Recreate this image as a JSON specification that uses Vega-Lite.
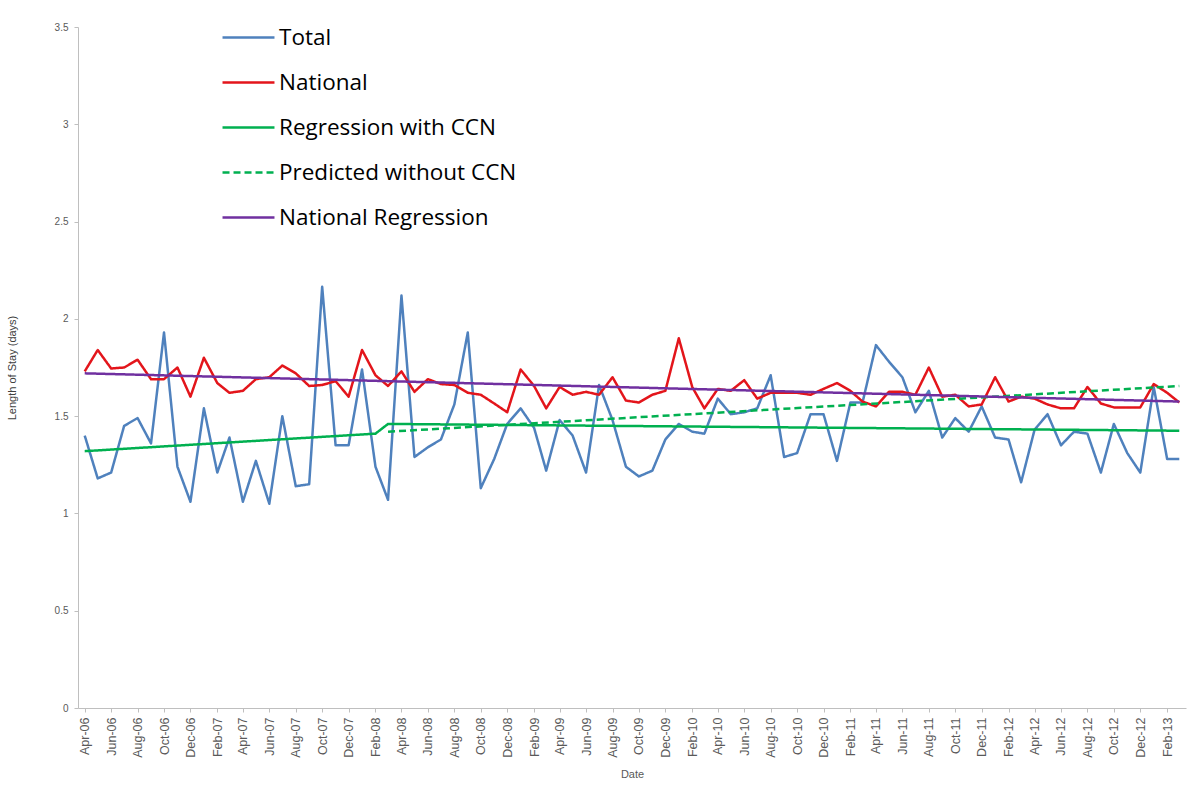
{
  "$schema": "https://vega.github.io/schema/vega-lite/v6.json",
  "width": 1108,
  "height": 681,
  "autosize": {"type": "none"},
  "padding": {"left": 78, "top": 27, "right": 14, "bottom": 82},
  "background": "white",
  "config": {"view": {"stroke": null}},
  "datasets": {
    "monthly": [
      {"date": "2006-04-01T00:00", "Total": 1.40, "National": 1.73},
      {"date": "2006-05-01T00:00", "Total": 1.18, "National": 1.84},
      {"date": "2006-06-01T00:00", "Total": 1.21, "National": 1.745},
      {"date": "2006-07-01T00:00", "Total": 1.45, "National": 1.75},
      {"date": "2006-08-01T00:00", "Total": 1.49, "National": 1.79},
      {"date": "2006-09-01T00:00", "Total": 1.36, "National": 1.69},
      {"date": "2006-10-01T00:00", "Total": 1.93, "National": 1.69},
      {"date": "2006-11-01T00:00", "Total": 1.24, "National": 1.75},
      {"date": "2006-12-01T00:00", "Total": 1.06, "National": 1.60},
      {"date": "2007-01-01T00:00", "Total": 1.54, "National": 1.80},
      {"date": "2007-02-01T00:00", "Total": 1.21, "National": 1.67},
      {"date": "2007-03-01T00:00", "Total": 1.39, "National": 1.62},
      {"date": "2007-04-01T00:00", "Total": 1.06, "National": 1.63},
      {"date": "2007-05-01T00:00", "Total": 1.27, "National": 1.69},
      {"date": "2007-06-01T00:00", "Total": 1.05, "National": 1.70},
      {"date": "2007-07-01T00:00", "Total": 1.50, "National": 1.76},
      {"date": "2007-08-01T00:00", "Total": 1.14, "National": 1.72},
      {"date": "2007-09-01T00:00", "Total": 1.15, "National": 1.655},
      {"date": "2007-10-01T00:00", "Total": 2.165, "National": 1.66},
      {"date": "2007-11-01T00:00", "Total": 1.35, "National": 1.68},
      {"date": "2007-12-01T00:00", "Total": 1.35, "National": 1.60},
      {"date": "2008-01-01T00:00", "Total": 1.74, "National": 1.84},
      {"date": "2008-02-01T00:00", "Total": 1.24, "National": 1.71},
      {"date": "2008-03-01T00:00", "Total": 1.07, "National": 1.655},
      {"date": "2008-04-01T00:00", "Total": 2.12, "National": 1.73},
      {"date": "2008-05-01T00:00", "Total": 1.29, "National": 1.625},
      {"date": "2008-06-01T00:00", "Total": 1.34, "National": 1.69},
      {"date": "2008-07-01T00:00", "Total": 1.38, "National": 1.665},
      {"date": "2008-08-01T00:00", "Total": 1.56, "National": 1.66},
      {"date": "2008-09-01T00:00", "Total": 1.93, "National": 1.62},
      {"date": "2008-10-01T00:00", "Total": 1.13, "National": 1.61},
      {"date": "2008-11-01T00:00", "Total": 1.28, "National": 1.565},
      {"date": "2008-12-01T00:00", "Total": 1.46, "National": 1.52},
      {"date": "2009-01-01T00:00", "Total": 1.54, "National": 1.74},
      {"date": "2009-02-01T00:00", "Total": 1.44, "National": 1.655},
      {"date": "2009-03-01T00:00", "Total": 1.22, "National": 1.54},
      {"date": "2009-04-01T00:00", "Total": 1.48, "National": 1.65},
      {"date": "2009-05-01T00:00", "Total": 1.40, "National": 1.61},
      {"date": "2009-06-01T00:00", "Total": 1.21, "National": 1.625},
      {"date": "2009-07-01T00:00", "Total": 1.66, "National": 1.61},
      {"date": "2009-08-01T00:00", "Total": 1.48, "National": 1.70},
      {"date": "2009-09-01T00:00", "Total": 1.24, "National": 1.58},
      {"date": "2009-10-01T00:00", "Total": 1.19, "National": 1.57},
      {"date": "2009-11-01T00:00", "Total": 1.22, "National": 1.61},
      {"date": "2009-12-01T00:00", "Total": 1.38, "National": 1.63},
      {"date": "2010-01-01T00:00", "Total": 1.46, "National": 1.90},
      {"date": "2010-02-01T00:00", "Total": 1.42, "National": 1.65},
      {"date": "2010-03-01T00:00", "Total": 1.41, "National": 1.54},
      {"date": "2010-04-01T00:00", "Total": 1.59, "National": 1.64},
      {"date": "2010-05-01T00:00", "Total": 1.51, "National": 1.63},
      {"date": "2010-06-01T00:00", "Total": 1.52, "National": 1.685},
      {"date": "2010-07-01T00:00", "Total": 1.54, "National": 1.59},
      {"date": "2010-08-01T00:00", "Total": 1.71, "National": 1.62},
      {"date": "2010-09-01T00:00", "Total": 1.29, "National": 1.62},
      {"date": "2010-10-01T00:00", "Total": 1.31, "National": 1.62},
      {"date": "2010-11-01T00:00", "Total": 1.51, "National": 1.61},
      {"date": "2010-12-01T00:00", "Total": 1.51, "National": 1.64},
      {"date": "2011-01-01T00:00", "Total": 1.27, "National": 1.67},
      {"date": "2011-02-01T00:00", "Total": 1.57, "National": 1.63},
      {"date": "2011-03-01T00:00", "Total": 1.57, "National": 1.575},
      {"date": "2011-04-01T00:00", "Total": 1.865, "National": 1.55},
      {"date": "2011-05-01T00:00", "Total": 1.78, "National": 1.625},
      {"date": "2011-06-01T00:00", "Total": 1.70, "National": 1.625},
      {"date": "2011-07-01T00:00", "Total": 1.52, "National": 1.61},
      {"date": "2011-08-01T00:00", "Total": 1.63, "National": 1.75},
      {"date": "2011-09-01T00:00", "Total": 1.39, "National": 1.60},
      {"date": "2011-10-01T00:00", "Total": 1.49, "National": 1.61},
      {"date": "2011-11-01T00:00", "Total": 1.42, "National": 1.55},
      {"date": "2011-12-01T00:00", "Total": 1.55, "National": 1.56},
      {"date": "2012-01-01T00:00", "Total": 1.39, "National": 1.70},
      {"date": "2012-02-01T00:00", "Total": 1.38, "National": 1.575},
      {"date": "2012-03-01T00:00", "Total": 1.16, "National": 1.60},
      {"date": "2012-04-01T00:00", "Total": 1.43, "National": 1.59},
      {"date": "2012-05-01T00:00", "Total": 1.51, "National": 1.56},
      {"date": "2012-06-01T00:00", "Total": 1.35, "National": 1.54},
      {"date": "2012-07-01T00:00", "Total": 1.42, "National": 1.54},
      {"date": "2012-08-01T00:00", "Total": 1.41, "National": 1.65},
      {"date": "2012-09-01T00:00", "Total": 1.21, "National": 1.565},
      {"date": "2012-10-01T00:00", "Total": 1.46, "National": 1.545},
      {"date": "2012-11-01T00:00", "Total": 1.31, "National": 1.545},
      {"date": "2012-12-01T00:00", "Total": 1.21, "National": 1.545},
      {"date": "2013-01-01T00:00", "Total": 1.65, "National": 1.665},
      {"date": "2013-02-01T00:00", "Total": 1.28, "National": 1.62},
      {"date": "2013-03-01T00:00", "Total": 1.28, "National": 1.57}
    ],
    "trends": [
      {"date": "2006-04-01T00:00", "series": "Regression with CCN", "value": 1.32},
      {"date": "2008-02-01T00:00", "series": "Regression with CCN", "value": 1.41},
      {"date": "2008-03-01T00:00", "series": "Regression with CCN", "value": 1.46},
      {"date": "2013-03-01T00:00", "series": "Regression with CCN", "value": 1.425},
      {"date": "2008-03-01T00:00", "series": "Predicted without CCN", "value": 1.42},
      {"date": "2013-03-01T00:00", "series": "Predicted without CCN", "value": 1.655},
      {"date": "2006-04-01T00:00", "series": "National Regression", "value": 1.72},
      {"date": "2013-03-01T00:00", "series": "National Regression", "value": 1.575}
    ]
  },
  "encoding": {
    "x": {
      "field": "date",
      "type": "temporal",
      "title": "Date",
      "scale": {"domain": ["2006-03-16T12:00", "2013-03-16T12:00"]},
      "axis": {
        "values": ["2006-04-01T00:00","2006-06-01T00:00","2006-08-01T00:00","2006-10-01T00:00","2006-12-01T00:00",
                   "2007-02-01T00:00","2007-04-01T00:00","2007-06-01T00:00","2007-08-01T00:00","2007-10-01T00:00","2007-12-01T00:00",
                   "2008-02-01T00:00","2008-04-01T00:00","2008-06-01T00:00","2008-08-01T00:00","2008-10-01T00:00","2008-12-01T00:00",
                   "2009-02-01T00:00","2009-04-01T00:00","2009-06-01T00:00","2009-08-01T00:00","2009-10-01T00:00","2009-12-01T00:00",
                   "2010-02-01T00:00","2010-04-01T00:00","2010-06-01T00:00","2010-08-01T00:00","2010-10-01T00:00","2010-12-01T00:00",
                   "2011-02-01T00:00","2011-04-01T00:00","2011-06-01T00:00","2011-08-01T00:00","2011-10-01T00:00","2011-12-01T00:00",
                   "2012-02-01T00:00","2012-04-01T00:00","2012-06-01T00:00","2012-08-01T00:00","2012-10-01T00:00","2012-12-01T00:00",
                   "2013-02-01T00:00"],
        "format": "%b-%y",
        "labelAngle": -90,
        "labelAlign": "right",
        "labelBaseline": "middle",
        "labelFont": "Liberation Sans",
        "labelFontSize": 12.5,
        "labelColor": "#595959",
        "labelPadding": 5,
        "labelOverlap": false,
        "labelFlush": false,
        "tickSize": 4,
        "tickColor": "#BFBFBF",
        "domainColor": "#BFBFBF",
        "grid": false,
        "titleFont": "Liberation Sans",
        "titleFontSize": 11,
        "titleFontWeight": "normal",
        "titleColor": "#595959",
        "titlePadding": 11
      }
    },
    "y": {
      "field": "value",
      "type": "quantitative",
      "title": "Length of Stay (days)",
      "scale": {"domain": [0, 3.5], "nice": false, "zero": true},
      "axis": {
        "values": [0, 0.5, 1, 1.5, 2, 2.5, 3, 3.5],
        "format": "~g",
        "grid": false,
        "labelFont": "Liberation Sans",
        "labelFontSize": 10,
        "labelColor": "#595959",
        "tickSize": 4,
        "tickColor": "#BFBFBF",
        "domainColor": "#BFBFBF",
        "labelPadding": 6,
        "titleFont": "Liberation Sans",
        "titleFontSize": 11,
        "titleFontWeight": "normal",
        "titleColor": "#404040",
        "titlePadding": 37
      }
    },
    "color": {
      "field": "series",
      "type": "nominal",
      "title": null,
      "scale": {
        "domain": ["Total", "National", "Regression with CCN", "Predicted without CCN", "National Regression"],
        "range": ["#4F81BD", "#E3151B", "#00B050", "#00B050", "#7030A0"]
      },
      "legend": {
        "orient": "none",
        "legendX": 143,
        "legendY": -17,
        "symbolType": "stroke",
        "symbolSize": 2700,
        "symbolStrokeWidth": 2.5,
        "labelFont": "Open Sans",
        "labelFontSize": 22.5,
        "labelColor": "#000000",
        "labelOffset": 3,
        "rowPadding": 6,
        "padding": 0,
        "labelLimit": 400
      }
    },
    "strokeDash": {
      "field": "series",
      "type": "nominal",
      "title": null,
      "scale": {
        "domain": ["Total", "National", "Regression with CCN", "Predicted without CCN", "National Regression"],
        "range": [[1, 0], [1, 0], [1, 0], [7, 4], [1, 0]]
      }
    }
  },
  "layer": [
    {
      "data": {"name": "monthly"},
      "transform": [{"fold": ["Total", "National"], "as": ["series", "value"]}],
      "mark": {"type": "line", "strokeWidth": 2.5, "strokeJoin": "round"}
    },
    {
      "data": {"name": "trends"},
      "mark": {"type": "line", "strokeWidth": 2.5}
    }
  ]
}
